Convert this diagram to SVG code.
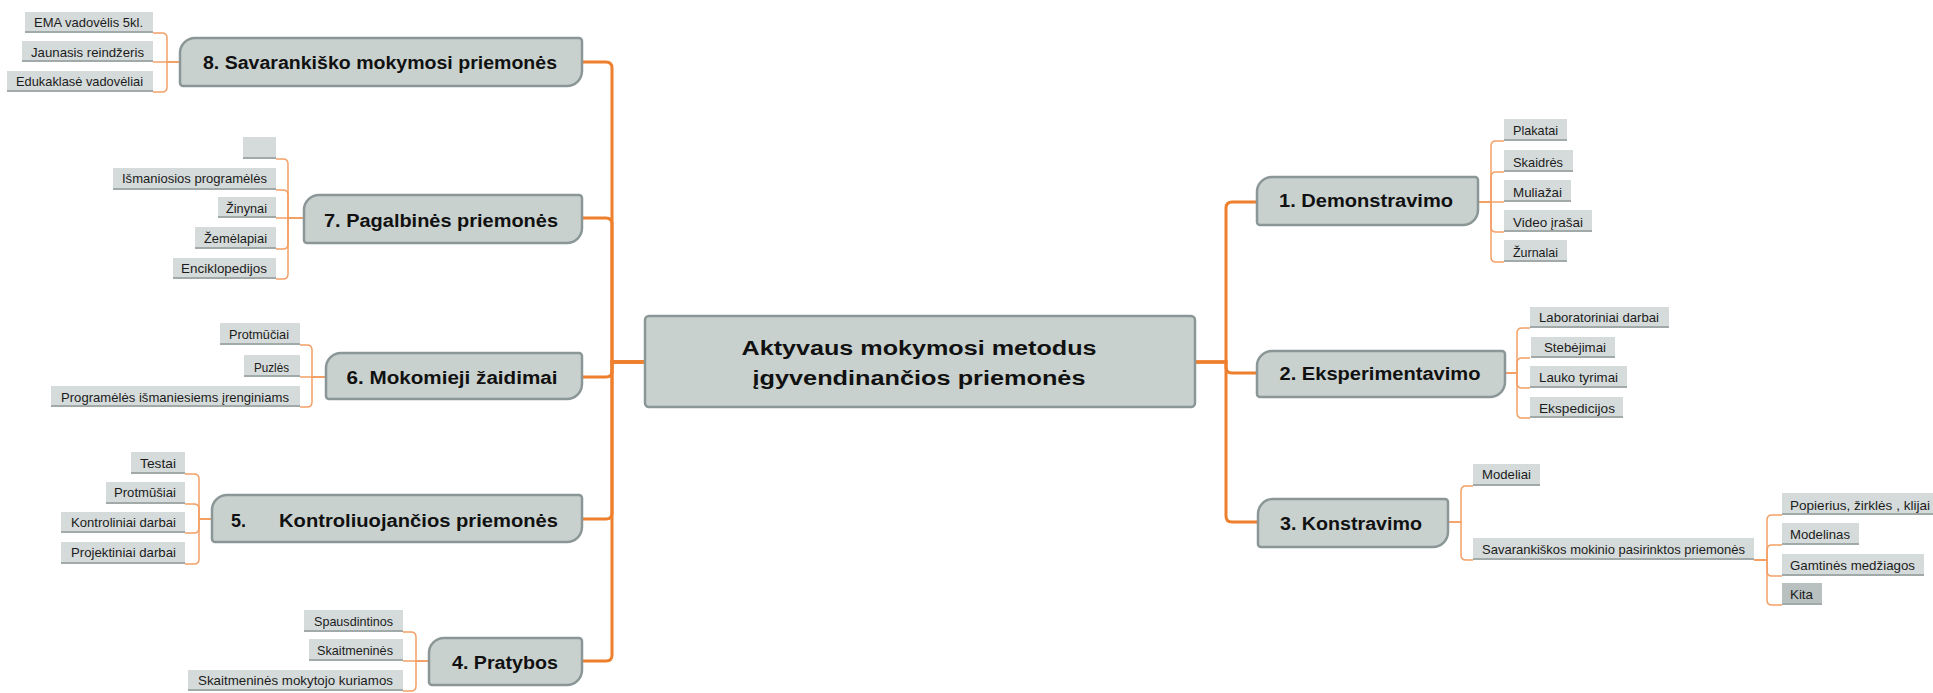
<svg xmlns="http://www.w3.org/2000/svg" width="1933" height="693" viewBox="0 0 1933 693">
<style>
.bg{fill:#ffffff}
.node{fill:#c9d1cf;stroke:#8b9797;stroke-width:2.5}
.nt{font-family:"Liberation Sans",Arial,sans-serif;font-weight:bold;font-size:18px;fill:#111;text-anchor:middle}
.ct{font-family:"Liberation Sans",Arial,sans-serif;font-weight:bold;font-size:20px;fill:#111;text-anchor:middle}
.lb{fill:#d5dbda}
.lbd{fill:#b8c1c0}
.ul{stroke:#a1aaa9;stroke-width:2;fill:none}
.lt{font-family:"Liberation Sans",Arial,sans-serif;font-size:13px;fill:#1c1c1c}
.main{fill:none;stroke:#ee7f2d;stroke-width:3;stroke-linecap:round}
.thin{fill:none;stroke:#f4a066;stroke-width:1.5}
</style>
<rect class="bg" x="0" y="0" width="1933" height="693"/>
<g id="connectors">
  <path class="main" d="M645 362 H612 V68 Q612 62 606 62 H582"/>
  <path class="main" d="M645 362 H612 V224 Q612 218 606 218 H582"/>
  <path class="main" d="M645 362 H612 V371 Q612 377 606 377 H582"/>
  <path class="main" d="M645 362 H612 V513 Q612 519 606 519 H582"/>
  <path class="main" d="M645 362 H612 V655 Q612 661 606 661 H582"/>
  <path class="main" d="M1195 362 H1226 V208 Q1226 202 1232 202 H1257"/>
  <path class="main" d="M1195 362 H1226 V367 Q1226 373 1232 373 H1257"/>
  <path class="main" d="M1195 362 H1226 V516 Q1226 522 1232 522 H1258"/>
  <path class="thin" d="M180 62 H167 V38 Q167 33 162 33 H153"/>
  <path class="thin" d="M180 62 H153"/>
  <path class="thin" d="M180 62 H167 V87 Q167 92 162 92 H153"/>
  <path class="thin" d="M304 218 H288 V164 Q288 159 283 159 H276"/>
  <path class="thin" d="M304 218 H288 V195 Q288 190 283 190 H276"/>
  <path class="thin" d="M304 218 H276"/>
  <path class="thin" d="M304 218 H288 V244 Q288 249 283 249 H276"/>
  <path class="thin" d="M304 218 H288 V274 Q288 279 283 279 H276"/>
  <path class="thin" d="M326 377 H312 V350 Q312 345 307 345 H300"/>
  <path class="thin" d="M326 377 H300"/>
  <path class="thin" d="M326 377 H312 V402 Q312 407 307 407 H300"/>
  <path class="thin" d="M212 519 H199 V479 Q199 474 194 474 H185"/>
  <path class="thin" d="M212 519 H199 V509 Q199 504 194 504 H185"/>
  <path class="thin" d="M212 519 H199 V528 Q199 533 194 533 H185"/>
  <path class="thin" d="M212 519 H199 V559 Q199 564 194 564 H185"/>
  <path class="thin" d="M429 661 H416 V637 Q416 632 411 632 H403"/>
  <path class="thin" d="M429 661 H403"/>
  <path class="thin" d="M429 661 H416 V686 Q416 691 411 691 H403"/>
  <path class="thin" d="M1478 202 H1491 V146 Q1491 141 1496 141 H1504"/>
  <path class="thin" d="M1478 202 H1491 V177 Q1491 172 1496 172 H1504"/>
  <path class="thin" d="M1478 202 H1504"/>
  <path class="thin" d="M1478 202 H1491 V227 Q1491 232 1496 232 H1504"/>
  <path class="thin" d="M1478 202 H1491 V257 Q1491 262 1496 262 H1504"/>
  <path class="thin" d="M1505 373 H1517 V333 Q1517 328 1522 328 H1530"/>
  <path class="thin" d="M1505 373 H1517 V363 Q1517 358 1522 358 H1530"/>
  <path class="thin" d="M1505 373 H1517 V383 Q1517 388 1522 388 H1530"/>
  <path class="thin" d="M1505 373 H1517 V413 Q1517 418 1522 418 H1530"/>
  <path class="thin" d="M1448 522 H1461 V491 Q1461 486 1466 486 H1473"/>
  <path class="thin" d="M1448 522 H1461 V555 Q1461 560 1466 560 H1473"/>
  <path class="thin" d="M1754 560 H1767 V520 Q1767 515 1772 515 H1782"/>
  <path class="thin" d="M1754 560 H1767 V550 Q1767 545 1772 545 H1782"/>
  <path class="thin" d="M1754 560 H1767 V571 Q1767 576 1772 576 H1782"/>
  <path class="thin" d="M1754 560 H1767 V600 Q1767 605 1772 605 H1782"/>
</g>
<g id="center">
  <rect class="node" x="645" y="316" width="550" height="91" rx="4" stroke-width="3"/>
  <text class="ct" x="919" y="355" textLength="355" lengthAdjust="spacingAndGlyphs">Aktyvaus mokymosi metodus</text>
  <text class="ct" x="919" y="385" textLength="333" lengthAdjust="spacingAndGlyphs">įgyvendinančios priemonės</text>
</g>
<g id="n8">
  <path class="node" d="M180 53 A15 15 0 0 1 195 38 H579 A3 3 0 0 1 582 41 V71 A15 15 0 0 1 567 86 H183 A3 3 0 0 1 180 83 Z"/>
  <text class="nt" x="380" y="69" textLength="354" lengthAdjust="spacingAndGlyphs">8. Savarankiško mokymosi priemonės</text>
</g>
<g id="n8a"><rect class="lb" x="25" y="12" width="128" height="21"/><path class="ul" d="M25 32 H153"/><text class="lt" x="34" y="27" textLength="109" lengthAdjust="spacingAndGlyphs">EMA vadovėlis 5kl.</text></g>
<g id="n8b"><rect class="lb" x="22" y="41" width="131" height="21"/><path class="ul" d="M22 61 H153"/><text class="lt" x="31" y="57" textLength="113" lengthAdjust="spacingAndGlyphs">Jaunasis reindžeris</text></g>
<g id="n8c"><rect class="lb" x="7" y="71" width="146" height="21"/><path class="ul" d="M7 91 H153"/><text class="lt" x="16" y="86" textLength="127" lengthAdjust="spacingAndGlyphs">Edukaklasė vadovėliai</text></g>
<g id="n7">
  <path class="node" d="M304 210 A15 15 0 0 1 319 195 H579 A3 3 0 0 1 582 198 V228 A15 15 0 0 1 567 243 H307 A3 3 0 0 1 304 240 Z"/>
  <text class="nt" x="441" y="227" textLength="234" lengthAdjust="spacingAndGlyphs">7. Pagalbinės priemonės</text>
</g>
<g id="n7a"><rect class="lb" x="243" y="137" width="33" height="22"/><path class="ul" d="M243 158 H276"/></g>
<g id="n7b"><rect class="lb" x="113" y="168" width="163" height="22"/><path class="ul" d="M113 189 H276"/><text class="lt" x="122" y="183" textLength="145" lengthAdjust="spacingAndGlyphs">Išmaniosios programėlės</text></g>
<g id="n7c"><rect class="lb" x="218" y="197" width="58" height="21"/><path class="ul" d="M218 217 H276"/><text class="lt" x="226" y="213" textLength="41" lengthAdjust="spacingAndGlyphs">Žinynai</text></g>
<g id="n7d"><rect class="lb" x="195" y="227" width="81" height="22"/><path class="ul" d="M195 248 H276"/><text class="lt" x="204" y="243" textLength="63" lengthAdjust="spacingAndGlyphs">Žemėlapiai</text></g>
<g id="n7e"><rect class="lb" x="173" y="258" width="103" height="21"/><path class="ul" d="M173 278 H276"/><text class="lt" x="181" y="273" textLength="86" lengthAdjust="spacingAndGlyphs">Enciklopedijos</text></g>
<g id="n6">
  <path class="node" d="M326 368 A15 15 0 0 1 341 353 H579 A3 3 0 0 1 582 356 V384 A15 15 0 0 1 567 399 H329 A3 3 0 0 1 326 396 Z"/>
  <text class="nt" x="452" y="384" textLength="211" lengthAdjust="spacingAndGlyphs">6. Mokomieji žaidimai</text>
</g>
<g id="n6a"><rect class="lb" x="220" y="323" width="80" height="22"/><path class="ul" d="M220 344 H300"/><text class="lt" x="229" y="339" textLength="60" lengthAdjust="spacingAndGlyphs">Protmūčiai</text></g>
<g id="n6b"><rect class="lb" x="244" y="355" width="56" height="22"/><path class="ul" d="M244 376 H300"/><text class="lt" x="254" y="372" textLength="35" lengthAdjust="spacingAndGlyphs">Puzlės</text></g>
<g id="n6c"><rect class="lb" x="51" y="386" width="249" height="21"/><path class="ul" d="M51 406 H300"/><text class="lt" x="61" y="402" textLength="228" lengthAdjust="spacingAndGlyphs">Programėlės išmaniesiems įrenginiams</text></g>
<g id="n5">
  <path class="node" d="M212 510 A15 15 0 0 1 227 495 H579 A3 3 0 0 1 582 498 V527 A15 15 0 0 1 567 542 H215 A3 3 0 0 1 212 539 Z"/>
  <text class="nt" y="527" style="text-anchor:start"><tspan x="231">5.</tspan><tspan x="279" textLength="279" lengthAdjust="spacingAndGlyphs">Kontroliuojančios priemonės</tspan></text>
</g>
<g id="n5a"><rect class="lb" x="131" y="452" width="54" height="22"/><path class="ul" d="M131 473 H185"/><text class="lt" x="140" y="468" textLength="36" lengthAdjust="spacingAndGlyphs">Testai</text></g>
<g id="n5b"><rect class="lb" x="106" y="482" width="79" height="22"/><path class="ul" d="M106 503 H185"/><text class="lt" x="114" y="497" textLength="62" lengthAdjust="spacingAndGlyphs">Protmūšiai</text></g>
<g id="n5c"><rect class="lb" x="61" y="512" width="124" height="21"/><path class="ul" d="M61 532 H185"/><text class="lt" x="71" y="527" textLength="105" lengthAdjust="spacingAndGlyphs">Kontroliniai darbai</text></g>
<g id="n5d"><rect class="lb" x="61" y="542" width="124" height="22"/><path class="ul" d="M61 563 H185"/><text class="lt" x="71" y="557" textLength="105" lengthAdjust="spacingAndGlyphs">Projektiniai darbai</text></g>
<g id="n4">
  <path class="node" d="M429 653 A15 15 0 0 1 444 638 H579 A3 3 0 0 1 582 641 V670 A15 15 0 0 1 567 685 H432 A3 3 0 0 1 429 682 Z"/>
  <text class="nt" x="505" y="669" textLength="106" lengthAdjust="spacingAndGlyphs">4. Pratybos</text>
</g>
<g id="n4a"><rect class="lb" x="304" y="610" width="99" height="22"/><path class="ul" d="M304 631 H403"/><text class="lt" x="314" y="626" textLength="79" lengthAdjust="spacingAndGlyphs">Spausdintinos</text></g>
<g id="n4b"><rect class="lb" x="309" y="639" width="94" height="22"/><path class="ul" d="M309 660 H403"/><text class="lt" x="317" y="655" textLength="76" lengthAdjust="spacingAndGlyphs">Skaitmeninės</text></g>
<g id="n4c"><rect class="lb" x="188" y="670" width="215" height="21"/><path class="ul" d="M188 690 H403"/><text class="lt" x="198" y="685" textLength="195" lengthAdjust="spacingAndGlyphs">Skaitmeninės mokytojo kuriamos</text></g>
<g id="n1">
  <path class="node" d="M1257 192 A15 15 0 0 1 1272 177 H1475 A3 3 0 0 1 1478 180 V210 A15 15 0 0 1 1463 225 H1260 A3 3 0 0 1 1257 222 Z"/>
  <text class="nt" x="1366" y="207" textLength="174" lengthAdjust="spacingAndGlyphs">1. Demonstravimo</text>
</g>
<g id="n1a"><rect class="lb" x="1504" y="119" width="63" height="22"/><path class="ul" d="M1504 140 H1567"/><text class="lt" x="1513" y="135" textLength="45" lengthAdjust="spacingAndGlyphs">Plakatai</text></g>
<g id="n1b"><rect class="lb" x="1504" y="150" width="69" height="22"/><path class="ul" d="M1504 171 H1573"/><text class="lt" x="1513" y="167" textLength="50" lengthAdjust="spacingAndGlyphs">Skaidrės</text></g>
<g id="n1c"><rect class="lb" x="1504" y="180" width="67" height="22"/><path class="ul" d="M1504 201 H1571"/><text class="lt" x="1513" y="197" textLength="49" lengthAdjust="spacingAndGlyphs">Muliažai</text></g>
<g id="n1d"><rect class="lb" x="1504" y="210" width="88" height="22"/><path class="ul" d="M1504 231 H1592"/><text class="lt" x="1513" y="227" textLength="70" lengthAdjust="spacingAndGlyphs">Video įrašai</text></g>
<g id="n1e"><rect class="lb" x="1504" y="240" width="63" height="22"/><path class="ul" d="M1504 261 H1567"/><text class="lt" x="1513" y="257" textLength="45" lengthAdjust="spacingAndGlyphs">Žurnalai</text></g>
<g id="n2">
  <path class="node" d="M1257 366 A15 15 0 0 1 1272 351 H1502 A3 3 0 0 1 1505 354 V382 A15 15 0 0 1 1490 397 H1260 A3 3 0 0 1 1257 394 Z"/>
  <text class="nt" x="1380" y="380" textLength="201" lengthAdjust="spacingAndGlyphs">2. Eksperimentavimo</text>
</g>
<g id="n2a"><rect class="lb" x="1530" y="307" width="139" height="21"/><path class="ul" d="M1530 327 H1669"/><text class="lt" x="1539" y="322" textLength="120" lengthAdjust="spacingAndGlyphs">Laboratoriniai darbai</text></g>
<g id="n2b"><rect class="lb" x="1531" y="337" width="84" height="21"/><path class="ul" d="M1531 357 H1615"/><text class="lt" x="1544" y="352" textLength="62" lengthAdjust="spacingAndGlyphs">Stebėjimai</text></g>
<g id="n2c"><rect class="lb" x="1530" y="366" width="97" height="22"/><path class="ul" d="M1530 387 H1627"/><text class="lt" x="1539" y="382" textLength="79" lengthAdjust="spacingAndGlyphs">Lauko tyrimai</text></g>
<g id="n2d"><rect class="lb" x="1530" y="397" width="93" height="21"/><path class="ul" d="M1530 417 H1623"/><text class="lt" x="1539" y="413" textLength="76" lengthAdjust="spacingAndGlyphs">Ekspedicijos</text></g>
<g id="n3">
  <path class="node" d="M1258 514 A15 15 0 0 1 1273 499 H1445 A3 3 0 0 1 1448 502 V532 A15 15 0 0 1 1433 547 H1261 A3 3 0 0 1 1258 544 Z"/>
  <text class="nt" x="1351" y="530" textLength="142" lengthAdjust="spacingAndGlyphs">3. Konstravimo</text>
</g>
<g id="n3a"><rect class="lb" x="1473" y="464" width="67" height="22"/><path class="ul" d="M1473 485 H1540"/><text class="lt" x="1482" y="479" textLength="49" lengthAdjust="spacingAndGlyphs">Modeliai</text></g>
<g id="n3b"><rect class="lb" x="1473" y="538" width="281" height="22"/><path class="ul" d="M1473 559 H1754"/><text class="lt" x="1482" y="554" textLength="263" lengthAdjust="spacingAndGlyphs">Savarankiškos mokinio pasirinktos priemonės</text></g>
<g id="n3b1"><rect class="lb" x="1782" y="493" width="151" height="22"/><path class="ul" d="M1782 514 H1933"/><text class="lt" x="1790" y="510" textLength="140" lengthAdjust="spacingAndGlyphs">Popierius, žirklės , klijai</text></g>
<g id="n3b2"><rect class="lb" x="1782" y="523" width="77" height="22"/><path class="ul" d="M1782 544 H1859"/><text class="lt" x="1790" y="539" textLength="60" lengthAdjust="spacingAndGlyphs">Modelinas</text></g>
<g id="n3b3"><rect class="lb" x="1782" y="554" width="142" height="22"/><path class="ul" d="M1782 575 H1924"/><text class="lt" x="1790" y="570" textLength="125" lengthAdjust="spacingAndGlyphs">Gamtinės medžiagos</text></g>
<g id="n3b4"><rect class="lbd" x="1782" y="583" width="40" height="22"/><path class="ul" d="M1782 604 H1822"/><text class="lt" x="1790" y="599" textLength="23" lengthAdjust="spacingAndGlyphs">Kita</text></g>
</svg>
